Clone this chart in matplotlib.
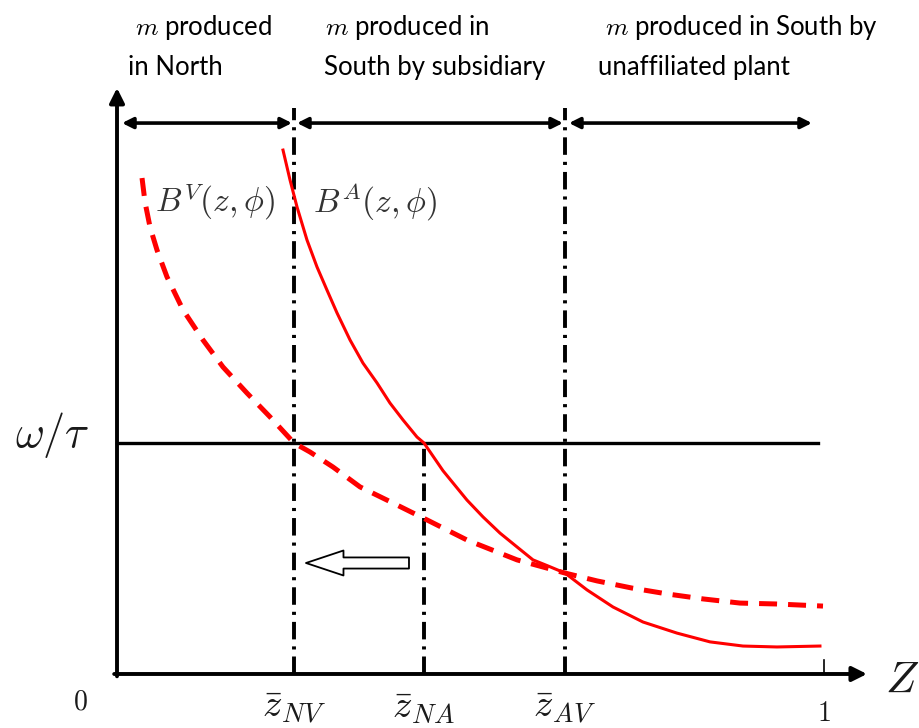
import matplotlib.pyplot as plt

plt.rcParams['mathtext.fontset'] = 'cm'

# cutoffs on the z axis and the omega/tau level
z_nv = 0.2504
z_na = 0.4342
z_av = 0.6337
wage = 1.0

# B^A(z, phi), solid curve
za = [0.2348, 0.2447, 0.2546, 0.2687, 0.2829, 0.2970, 0.3112, 0.3296, 0.3479,
      0.3678, 0.3861, 0.4045, 0.4243, 0.4342, 0.4611, 0.4950, 0.5177, 0.5417,
      0.5658, 0.5884, 0.6110, 0.6337, 0.6648, 0.7016, 0.7440, 0.7921, 0.8388,
      0.8854, 0.9335, 0.9943]
ba = [2.268, 2.139, 2.022, 1.879, 1.762, 1.662, 1.563, 1.446, 1.346,
      1.260, 1.173, 1.100, 1.026, 1.0, 0.880, 0.753, 0.680, 0.610,
      0.550, 0.494, 0.466, 0.437, 0.364, 0.290, 0.225, 0.177, 0.139,
      0.121, 0.117, 0.121]

# B^V(z, phi), dashed curve
zv = [0.0354, 0.0396, 0.0467, 0.0566, 0.0707, 0.0934, 0.1216, 0.1499, 0.1839,
      0.2164, 0.2504, 0.2730, 0.3055, 0.3437, 0.3904, 0.4385, 0.4950, 0.5658,
      0.6337, 0.6789, 0.7284, 0.7793, 0.8289, 0.8812, 0.9335, 0.9986]
bv = [2.147, 2.043, 1.935, 1.835, 1.719, 1.576, 1.446, 1.329, 1.216,
      1.113, 1.0, 0.961, 0.896, 0.810, 0.740, 0.667, 0.580, 0.494,
      0.437, 0.403, 0.372, 0.346, 0.325, 0.307, 0.303, 0.294]

top_labels = [r'$m$ produced', r'$m$ produced in', r'$m$ produced in South by']
sub_labels = ['in North', 'South by subsidiary', 'unaffiliated plant']

fig = plt.figure(figsize=(9.19, 7.28), dpi=100)
ax = fig.add_axes([0, 0, 1, 1])
ax.set_xlim(-0.1655, 1.1344)
ax.set_ylim(-0.2338, 2.9177)
ax.axis('off')

# axes with arrows
ax.annotate('', xy=(0, 2.537), xytext=(0, -0.01),
            arrowprops=dict(arrowstyle='-|>', color='black', lw=2.8,
                            mutation_scale=22, shrinkA=0, shrinkB=0))
ax.annotate('', xy=(1.0608, 0), xytext=(-0.004, 0),
            arrowprops=dict(arrowstyle='-|>', color='black', lw=2.8,
                            mutation_scale=22, shrinkA=0, shrinkB=0))
ax.plot([1.0, 1.0], [0, 0.06], color='black', lw=1.2)

# omega / tau line
ax.plot([0, 0.991], [wage, wage], color='black', lw=2.4)

# cutoff lines
dd = (4.5, 1.8, 0.8, 1.8)
ax.plot([z_nv, z_nv], [0, 2.45], color='black', lw=2.8, dashes=dd)
ax.plot([z_na, z_na], [0, wage], color='black', lw=2.8, dashes=dd)
ax.plot([z_av, z_av], [0, 2.45], color='black', lw=2.8, dashes=dd)

# curves
ax.plot(za, ba, color='#ff0000', lw=2.2, solid_joinstyle='round')
ax.plot(zv, bv, color='#ff0000', lw=3.6, dashes=(3.6, 2.2))

# range arrows
arrow_y = 2.385
spans = [(0.0071, 0.2475), (0.2546, 0.6308), (0.6393, 0.983)]
for a, b in spans:
    ax.annotate('', xy=(b, arrow_y), xytext=(a, arrow_y),
                arrowprops=dict(arrowstyle='<|-|>', color='black', lw=2.6,
                                mutation_scale=16, shrinkA=0, shrinkB=0))

# hollow shift arrow
ax.annotate('', xy=(0.2673, 0.4805), xytext=(0.413, 0.4805),
            arrowprops=dict(arrowstyle='simple,head_length=1.35,head_width=0.9,tail_width=0.4',
                            fc='white', ec='black', lw=1.3, mutation_scale=20,
                            shrinkA=0, shrinkB=0))

# labels
txt = '#1a1a1a'
ax.text(-0.0919, 1.035, r'$\omega/\tau$', fontsize=32, ha='center', va='center', color=txt)
ax.text(-0.0523, -0.121, '$0$', fontsize=20, ha='center', va='center', color=txt)
ax.text(z_nv, -0.143, r'$\bar{z}_{NV}$', fontsize=28, ha='center', va='center', color=txt)
ax.text(z_na, -0.143, r'$\bar{z}_{NA}$', fontsize=28, ha='center', va='center', color=txt)
ax.text(z_av, -0.143, r'$\bar{z}_{AV}$', fontsize=28, ha='center', va='center', color=txt)
ax.text(1.0, -0.169, '$1$', fontsize=20, ha='center', va='center', color=txt)
ax.text(1.110, -0.026, '$Z$', fontsize=32, ha='center', va='center', color=txt)
ax.text(0.0541, 2.043, r'$B^V(z,\phi)$', fontsize=24, ha='left', va='center', color='#333333')
ax.text(0.277, 2.043, r'$B^A(z,\phi)$', fontsize=24, ha='left', va='center', color='#333333')

top_x = [0.0255, 0.294, 0.690]
sub_x = [0.0156, 0.293, 0.680]
for t, s, x1, x2 in zip(top_labels, sub_labels, top_x, sub_x):
    ax.text(x1, 2.80, t, fontsize=18.5, family='Lato', ha='left', va='center')
    ax.text(x2, 2.625, s, fontsize=18.5, family='Lato', ha='left', va='center')

fig.savefig('out.png', dpi=100)
